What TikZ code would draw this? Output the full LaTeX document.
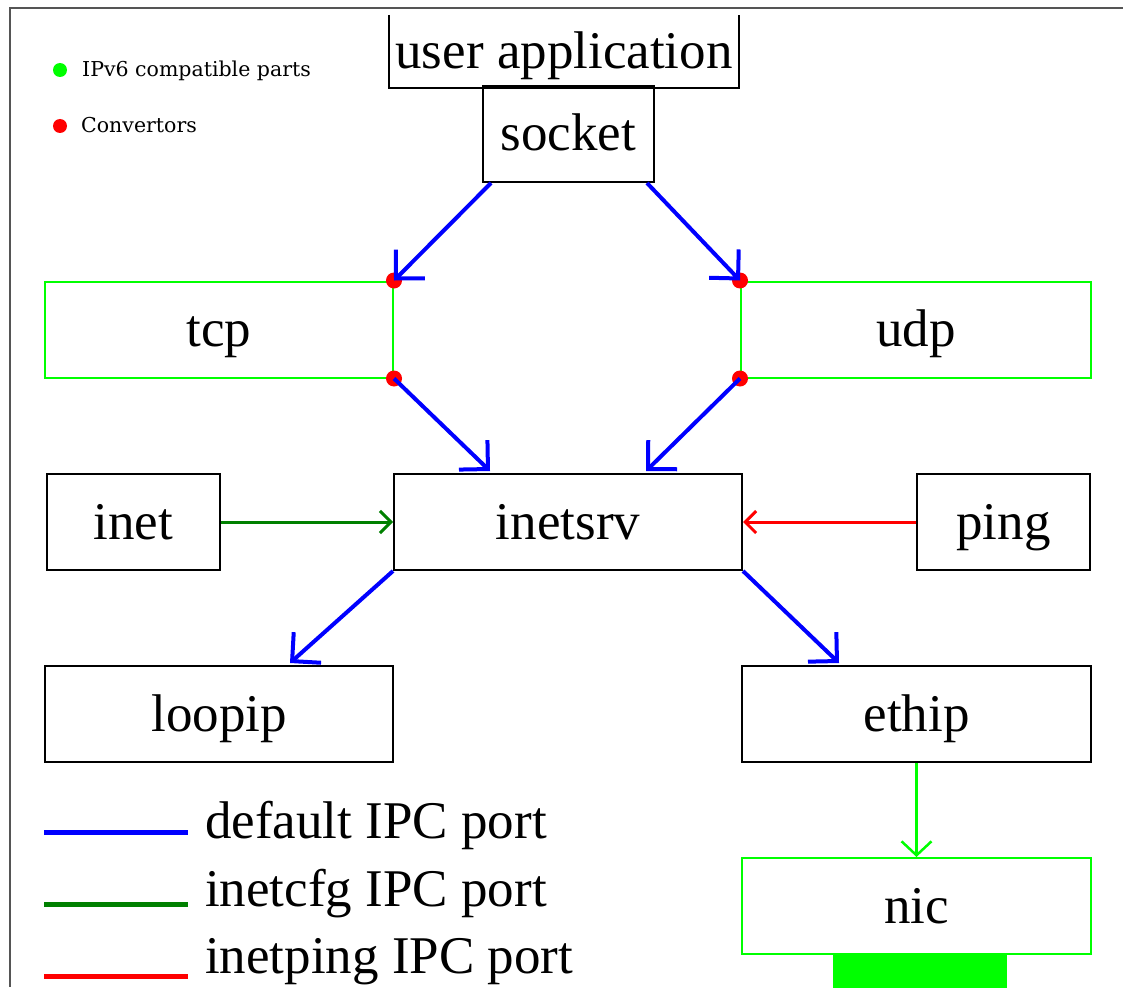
\documentclass[tikz,border=0pt]{standalone}
\usepackage{fontspec}
\setmainfont{Liberation Serif}
\newfontfamily\notefont{DejaVu Serif}
\usetikzlibrary{arrows.meta,calc}

\definecolor{lime}{RGB}{0,255,0}
\definecolor{cfggreen}{RGB}{0,128,0}
\definecolor{portblue}{RGB}{0,0,255}
\definecolor{pingred}{RGB}{255,0,0}
\definecolor{framegrey}{RGB}{85,85,85}

\tikzset{
  box/.style={draw=black, line width=2pt, minimum width=348pt, minimum height=96pt,
              inner sep=0pt, text height=34pt, text depth=0pt,
              font=\fontsize{53}{60}\selectfont},
  smallbox/.style={box, minimum width=173pt},
  v6box/.style={box, draw=lime},
  defport/.style={draw=portblue, line width=4pt,
                  -{Straight Barb[length=20.5pt, width=41pt]}},
  cfgport/.style={draw=cfggreen, line width=3pt,
                  -{Straight Barb[length=11pt, width=22pt]}},
  pingport/.style={draw=pingred, line width=3pt,
                  -{Straight Barb[length=11pt, width=22pt]}},
  nicport/.style={draw=lime, line width=2.5pt,
                  -{Straight Barb[length=14pt, width=30pt]}},
  convdot/.style={fill=pingred, circle, inner sep=0pt, minimum size=16pt},
  notedot/.style={circle, inner sep=0pt, minimum size=14pt},
  legline/.style={line width=5pt},
  legtext/.style={anchor=base west, inner sep=0pt, font=\fontsize{53}{60}\selectfont},
  notetext/.style={anchor=base west, inner sep=0pt, font=\notefont\fontsize{20.5}{24}\selectfont},
}

\begin{document}
\begin{tikzpicture}[x=1pt, y=-1pt]
  \useasboundingbox (0,0) rectangle (1123,987);

  % outer frame (top and left edges)
  \draw[framegrey, line width=2pt] (1123,8) -- (10,8) -- (10,987);

  % notes
  \node[notedot, fill=lime] (gdot) at (60,70) {};
  \node[notetext] (gnote) at (82,77) {IPv6 compatible parts};
  \node[notedot, fill=pingred] (rdot) at (60,126) {};
  \node[notetext] (rnote) at (81,133) {Convertors};

  % components
  \node[box, draw=none, minimum height=71pt, anchor=south] (app) at (564,88) {user application};
  \node[box, minimum width=171pt] (socket) at (568.5,134) {socket};
  \node[v6box] (tcp) at (219,329.5) {tcp};
  \node[v6box, minimum width=350pt] (udp) at (916,329.5) {udp};
  \node[smallbox] (inet) at (133.5,522) {inet};
  \node[box] (inetsrv) at (568,522) {inetsrv};
  \node[smallbox] (ping) at (1003.5,522) {ping};
  \node[box] (loopip) at (219,714) {loopip};
  \node[box, minimum width=349pt] (ethip) at (916.5,714) {ethip};
  \node[v6box, minimum width=349pt] (nic) at (916.5,906) {nic};
  \node[fill=lime, inner sep=0pt, minimum width=174pt, minimum height=36pt, anchor=north]
       (port) at (920,955) {};

  % user application box is open at the top
  \draw[line width=2pt] (app.north west) -- (app.south west) -- (app.south east) -- (app.north east);

  % converters on the IPv6 modules
  \node[convdot] (tcpin)  at (tcp.north east) {};
  \node[convdot] (tcpout) at (tcp.south east) {};
  \node[convdot] (udpin)  at (udp.north west) {};
  \node[convdot] (udpout) at (udp.south west) {};

  % default IPC ports
  \draw[defport] ($(socket.south west)+(9,0)$) -- (tcpin.center);
  \draw[defport] ($(socket.south east)+(-8,0)$) -- (udpin.center);
  \draw[defport] (tcpout.center) -- ($(inetsrv.north west)+(97,-2)$);
  \draw[defport] (udpout.center) -- ($(inetsrv.north east)+(-97,-2)$);
  \draw[defport] (inetsrv.south west) -- ($(loopip.north west)+(246,-2)$);
  \draw[defport] (inetsrv.south east) -- ($(ethip.north west)+(98,-2)$);

  % inetcfg and inetping ports
  \draw[cfgport] (inet.east) -- (inetsrv.west);
  \draw[pingport] (ping.west) -- (inetsrv.east);

  % ethip to nic
  \draw[nicport] (ethip.south) -- (nic.north);

  % legend
  \coordinate (l1a) at (44,832);  \coordinate (l1b) at (188,832);
  \coordinate (l2a) at (44,904);  \coordinate (l2b) at (188,904);
  \coordinate (l3a) at (44,976);  \coordinate (l3b) at (188,976);
  \draw[legline, portblue] (l1a) -- (l1b);
  \draw[legline, cfggreen] (l2a) -- (l2b);
  \draw[legline, pingred] (l3a) -- (l3b);
  \node[legtext] (t1) at (205,838) {default IPC port};
  \node[legtext] (t2) at (205,906) {inetcfg IPC port};
  \node[legtext] (t3) at (205,973) {inetping IPC port};
\end{tikzpicture}
\end{document}
